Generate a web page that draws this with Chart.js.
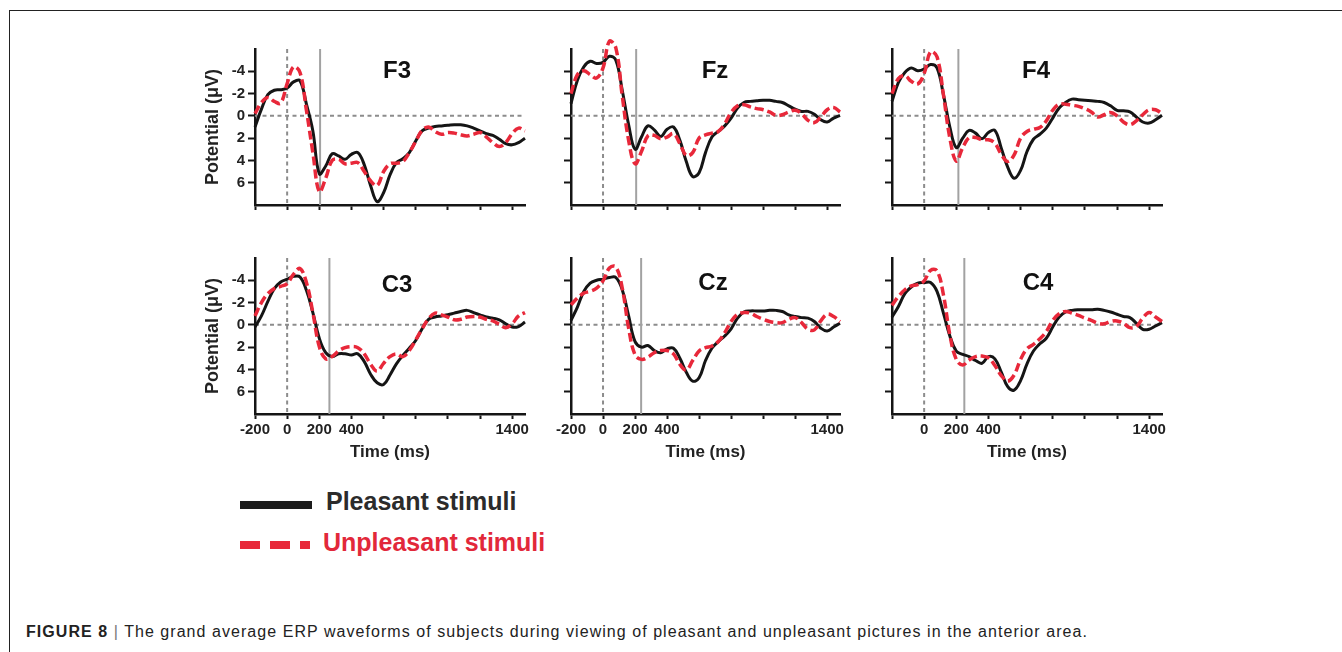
<!DOCTYPE html>
<html>
<head>
<meta charset="utf-8">
<script src="https://cdn.jsdelivr.net/npm/chart.js@4.4.0/dist/chart.umd.min.js"></script>
<style>
  body { margin: 0; width: 1342px; height: 652px; background: #fff; position: relative; overflow: hidden;
         font-family: 'Liberation Sans', Arial, sans-serif; }
  .frame { position: absolute; left: 9px; top: 10px; width: 1400px; height: 700px;
           border-top: 1.5px solid #222; border-left: 1.5px solid #222; }
  canvas { position: absolute; }
  .swatch { position: absolute; }
  .legend-text { position: absolute; font-weight: bold; font-size: 25px; line-height: 28px; white-space: nowrap; }
  .caption { position: absolute; left: 26px; top: 623px; font-size: 16px; line-height: 18px; letter-spacing: 1.05px;
             color: #222; white-space: nowrap; }
  .caption .bar { color: #777; }
</style>
</head>
<body>
<div class="frame"></div>

<div class="swatch" style="left:240px;top:501px;width:72px;height:8px;background:#1c1c1c"></div>
<div class="legend-text" style="left:326px;top:487px;color:#2b2b2b">Pleasant stimuli</div>
<div class="swatch" style="left:240px;top:541px;width:70px;height:8px;background:repeating-linear-gradient(90deg,#e8283a 0 20px,transparent 20px 30px)"></div>
<div class="legend-text" style="left:323px;top:528px;color:#e2283a">Unpleasant stimuli</div>

<div class="caption"><b>FIGURE 8</b> <span class="bar">|</span> The grand average ERP waveforms of subjects during viewing of pleasant and unpleasant pictures in the anterior area.</div>

<script>
'use strict'

// time axis (ms), shared by every panel
const times = [-200, -160, -120, -80, -40, 0, 40, 80, 120, 160, 200, 240, 280, 320, 360, 400, 440, 480, 520, 560,
  600, 640, 680, 720, 760, 800, 840, 880, 920, 960, 1000, 1040, 1080, 1120, 1160, 1200, 1240, 1280, 1320, 1360,
  1400, 1440, 1480];

const yTicks = [-4, -2, 0, 2, 4, 6];
const xTicks = [-200, 0, 200, 400, 600, 800, 1000, 1200, 1400];
const xLabelsC3Cz = [-200, 0, 200, 400, 1400];
const xLabelsC4 = [0, 200, 400, 1400];

const electrodes = ['F3', 'Fz', 'F4', 'C3', 'Cz', 'C4'];
const markerTimes = [205, 207, 213, 263, 238, 250];

// potentials (uV), pleasant = solid black, unpleasant = dashed red
const f3Pleasant = [1.0, -0.6, -1.9, -2.3, -2.35, -2.5, -3.05, -3.15, -1.05, 1.35, 5.2, 4.5, 3.4, 3.6, 3.9, 3.45, 3.3, 4.4, 6.3, 7.7,
  6.9, 5.3, 4.2, 3.85, 3.3, 2.25, 1.35, 1.1, 0.95, 0.9, 0.85, 0.8, 0.8, 0.9, 1.1, 1.35, 1.6, 1.75, 2.1, 2.5, 2.6, 2.4, 2.0];
const f3Unpleasant = [-0.2, -1.2, -1.65, -1.3, -1.15, -2.9, -4.4, -3.9, -0.5, 3.3, 6.8, 5.6, 4.0, 3.9, 4.3, 4.25, 4.2, 5.0, 5.85, 6.25,
  5.0, 4.3, 4.25, 4.1, 3.3, 2.3, 1.3, 1.0, 1.4, 1.65, 1.5, 1.55, 1.7, 1.8, 1.65, 1.5, 1.9, 2.4, 2.75, 2.4, 1.6, 1.1, 1.35];

const fzPleasant = [-1.1, -3.2, -4.4, -4.9, -4.7, -4.8, -5.35, -5.0, -2.3, 0.8, 3.0, 1.9, 0.9, 1.25, 1.85, 1.2, 1.0, 2.2, 4.1, 5.45,
  5.1, 3.3, 1.9, 1.4, 0.9, 0.2, -0.7, -1.2, -1.3, -1.35, -1.4, -1.4, -1.3, -1.2, -0.9, -0.6, -0.4, -0.4, -0.15, 0.35, 0.55, 0.2, -0.05];
const fzUnpleasant = [-2.0, -3.7, -4.05, -3.7, -3.4, -4.3, -6.7, -6.1, -1.8, 2.2, 4.3, 3.2, 1.8, 1.75, 2.05, 1.9, 1.6, 2.5, 3.55, 3.3,
  2.0, 1.7, 1.55, 1.4, 0.7, -0.3, -0.9, -1.0, -0.8, -0.65, -0.55, -0.35, -0.05, -0.1, -0.35, -0.5, -0.2, 0.4, 0.6, 0.1, -0.55, -0.75, -0.35];

const f4Pleasant = [-1.3, -3.0, -3.9, -4.3, -4.05, -4.2, -4.6, -4.3, -1.9, 1.0, 2.85, 2.0, 1.3, 1.55, 2.05, 1.5, 1.3, 2.9, 4.6, 5.6,
  4.9, 3.2, 2.1, 1.65, 1.1, 0.2, -0.7, -1.2, -1.5, -1.45, -1.4, -1.35, -1.3, -1.2, -0.9, -0.5, -0.45, -0.35, 0.1, 0.55, 0.65, 0.35, -0.05];
const f4Unpleasant = [-2.0, -3.35, -3.6, -3.1, -2.85, -3.8, -5.75, -5.3, -1.9, 2.0, 4.05, 2.85, 1.95, 1.95, 2.15, 2.15, 2.45, 3.45, 4.1, 3.5,
  2.0, 1.4, 1.2, 1.05, 0.45, -0.5, -1.05, -1.05, -0.95, -0.85, -0.65, -0.35, 0.1, -0.1, -0.3, 0.0, 0.55, 0.8, 0.45, -0.1, -0.55, -0.55, -0.2];

const c3Pleasant = [0.2, -0.8, -2.1, -3.25, -3.85, -4.1, -4.35, -4.3, -3.1, -1.1, 1.2, 2.5, 2.85, 2.6, 2.6, 2.7, 2.6, 3.3, 4.45, 5.2,
  5.35, 4.5, 3.5, 2.75, 2.1, 1.4, 0.35, -0.5, -0.7, -0.8, -0.9, -1.05, -1.2, -1.3, -1.1, -0.9, -0.7, -0.6, -0.45, -0.1, 0.2, 0.15, -0.25];
const c3Unpleasant = [-0.8, -2.0, -2.8, -3.25, -3.45, -3.7, -4.55, -5.05, -3.8, -1.1, 1.95, 3.05, 2.85, 2.35, 2.05, 1.95, 2.05, 2.6, 3.55, 4.15,
  3.45, 2.85, 2.6, 2.85, 2.3, 1.35, 0.35, -0.55, -1.05, -0.9, -0.7, -0.45, -0.5, -0.7, -0.75, -0.7, -0.5, -0.35, -0.05, 0.25, -0.1, -0.8, -1.1];

const czPleasant = [-0.4, -1.6, -3.0, -3.75, -4.0, -4.1, -4.25, -4.25, -3.15, -0.8, 1.5, 2.0, 1.85, 2.3, 2.5, 2.15, 2.1, 3.0, 4.25, 5.05,
  4.75, 3.2, 2.1, 1.5, 1.0, 0.35, -0.6, -1.15, -1.25, -1.25, -1.25, -1.3, -1.3, -1.2, -0.9, -0.75, -0.65, -0.6, -0.3, 0.3, 0.55, 0.2, -0.15];
const czUnpleasant = [-1.8, -2.4, -2.85, -3.0, -3.3, -3.95, -5.1, -5.2, -3.3, 0.3, 2.7, 3.1, 2.9, 2.5, 2.3, 2.3, 2.6, 3.55, 4.05, 3.2,
  2.35, 2.05, 1.9, 1.5, 0.7, -0.3, -0.95, -1.1, -1.05, -0.75, -0.5, -0.3, -0.2, -0.2, -0.5, -0.65, -0.2, 0.4, 0.45, -0.35, -0.95, -0.75, -0.3];

const c4Pleasant = [-0.7, -1.65, -2.8, -3.4, -3.75, -3.8, -3.8, -3.0, -1.05, 1.0, 2.35, 2.65, 2.85, 3.2, 3.45, 2.85, 3.05, 4.25, 5.55, 5.85,
  5.0, 3.5, 2.35, 1.7, 1.2, 0.2, -0.7, -1.15, -1.3, -1.35, -1.35, -1.35, -1.4, -1.3, -1.15, -0.95, -0.75, -0.65, -0.15, 0.4, 0.4, 0.1, -0.2];
const c4Unpleasant = [-1.75, -2.55, -3.15, -3.5, -3.6, -3.95, -4.9, -4.85, -2.7, 0.9, 3.1, 3.6, 3.15, 2.85, 2.8, 2.95, 3.65, 4.55, 5.05, 4.5,
  3.1, 2.15, 1.75, 1.25, 0.6, -0.4, -1.0, -1.2, -1.05, -0.85, -0.6, -0.4, -0.15, -0.1, -0.3, -0.35, -0.15, 0.25, 0.15, -0.6, -1.1, -0.7, -0.3];

const pleasantSeries = [f3Pleasant, fzPleasant, f4Pleasant, c3Pleasant, czPleasant, c4Pleasant];
const unpleasantSeries = [f3Unpleasant, fzUnpleasant, f4Unpleasant, c3Unpleasant, czUnpleasant, c4Unpleasant];

// plot area of every panel on the page (px)
const boxes = [
  {left: 255, top: 49, w: 270, h: 156, tx: 142, ty: 22},
  {left: 571, top: 49, w: 269, h: 156, tx: 144, ty: 22},
  {left: 892, top: 49, w: 270, h: 156, tx: 144, ty: 22},
  {left: 255, top: 258, w: 270, h: 156, tx: 142, ty: 27},
  {left: 571, top: 258, w: 269, h: 156, tx: 142, ty: 25},
  {left: 892, top: 258, w: 270, h: 156, tx: 146, ty: 25}
];
const YW = 56, XH = 53, PAD_T = 16, PAD_R = 12;
const BLACK = '#151515';
const RED = '#e8283a';
const FONT = "'Liberation Sans', Arial, sans-serif";

Chart.defaults.font.family = FONT;
Chart.defaults.font.weight = 'bold';
Chart.defaults.color = '#222';

const refLines = {
  id: 'refLines',
  beforeDatasetsDraw(chart, args, opts) {
    const {ctx, chartArea: a, scales: {x, y}} = chart;
    const x0 = x.getPixelForValue(0);
    const y0 = y.getPixelForValue(0);
    ctx.save();
    ctx.lineWidth = 2;
    ctx.strokeStyle = '#8c8c8c';
    ctx.setLineDash([4, 3.5]);
    ctx.beginPath();
    ctx.moveTo(x0, a.top);
    ctx.lineTo(x0, a.bottom);
    ctx.moveTo(a.left, y0);
    ctx.lineTo(a.right, y0);
    ctx.stroke();
    ctx.setLineDash([]);
    ctx.strokeStyle = '#a2a2a2';
    const xm = x.getPixelForValue(opts.marker);
    ctx.beginPath();
    ctx.moveTo(xm, a.top);
    ctx.lineTo(xm, a.bottom);
    ctx.stroke();
    ctx.restore();
  },
  afterDatasetsDraw(chart, args, opts) {
    const {ctx, chartArea: a} = chart;
    ctx.save();
    ctx.font = 'bold 24px ' + FONT;
    ctx.fillStyle = '#111';
    ctx.textAlign = 'center';
    ctx.textBaseline = 'middle';
    ctx.fillText(opts.label, a.left + opts.tx, a.top + opts.ty);
    ctx.restore();
  }
};

function toPoints(vals) {
  return times.map((t, i) => ({x: t, y: vals[i]}));
}

function makePanel(i) {
  const box = boxes[i];
  const leftCol = i % 3 === 0;
  const bottomRow = i >= 3;
  const xLabels = !bottomRow ? [] : (i === 5 ? xLabelsC4 : xLabelsC3Cz);

  const canvas = document.createElement('canvas');
  canvas.width = YW + box.w + PAD_R;
  canvas.height = PAD_T + box.h + XH;
  canvas.style.left = (box.left - YW) + 'px';
  canvas.style.top = (box.top - PAD_T) + 'px';
  document.body.appendChild(canvas);

  new Chart(canvas, {
    type: 'line',
    data: {
      datasets: [
        {
          data: toPoints(unpleasantSeries[i]),
          borderColor: RED, borderWidth: 3.5, borderDash: [9, 4],
          pointRadius: 0, tension: 0.4, clip: false, order: 1
        },
        {
          data: toPoints(pleasantSeries[i]),
          borderColor: BLACK, borderWidth: 3,
          pointRadius: 0, tension: 0.4, clip: false, order: 2
        }
      ]
    },
    plugins: [refLines],
    options: {
      responsive: false,
      animation: false,
      layout: {padding: {top: PAD_T, right: PAD_R, left: 0, bottom: 0}},
      plugins: {
        legend: {display: false},
        tooltip: {enabled: false},
        refLines: {marker: markerTimes[i], label: electrodes[i], tx: box.tx, ty: box.ty}
      },
      scales: {
        x: {
          type: 'linear', min: -200, max: 1480,
          afterBuildTicks: s => { s.ticks = xTicks.map(v => ({value: v})); },
          afterFit: s => { s.height = XH; },
          ticks: {
            autoSkip: false, maxRotation: 0, padding: 2,
            font: {size: 15, weight: 'bold'}, color: '#222',
            callback: v => xLabels.includes(v) ? String(v) : ''
          },
          grid: {drawOnChartArea: false, drawTicks: true, tickLength: 5, tickColor: BLACK, tickWidth: 2},
          border: {display: true, color: BLACK, width: 2.5},
          title: {display: bottomRow, text: 'Time (ms)', font: {size: 17, weight: 'bold'}, color: '#222', padding: {top: 0, bottom: 4}}
        },
        y: {
          type: 'linear', min: -6, max: 8, reverse: true,
          afterBuildTicks: s => { s.ticks = yTicks.map(v => ({value: v})); },
          afterFit: s => { s.width = YW; },
          ticks: {
            autoSkip: false, padding: 3,
            font: {size: 15, weight: 'bold'}, color: '#222',
            callback: v => leftCol ? String(v) : ''
          },
          grid: {drawOnChartArea: false, drawTicks: true, tickLength: 7, tickColor: BLACK, tickWidth: 2},
          border: {display: true, color: BLACK, width: 2.5},
          title: {display: leftCol, text: 'Potential (\u03bcV)', font: {size: 18, weight: 'bold'}, color: '#222', padding: {top: 3, bottom: 0}}
        }
      }
    }
  });
}

for (let i = 0; i < electrodes.length; i++) {
  makePanel(i);
}
</script>
</body>
</html>
